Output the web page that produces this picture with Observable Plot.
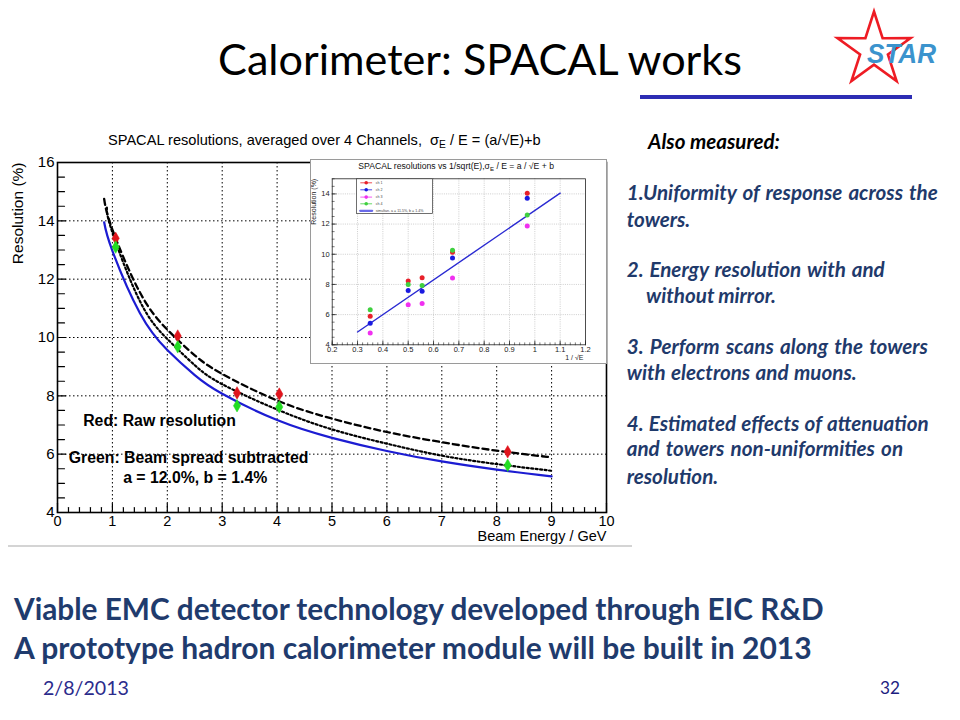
<!DOCTYPE html>
<html><head><meta charset="utf-8">
<script src="https://cdn.jsdelivr.net/npm/d3@7"></script>
<script src="https://cdn.jsdelivr.net/npm/@observablehq/plot@0.6"></script>
<style>
body{margin:0;background:#fff;}
#slide{position:relative;width:960px;height:720px;overflow:hidden;background:#fff;}
.abs{position:absolute;white-space:nowrap;line-height:1;}
.abs sub{font-size:70%;line-height:0;vertical-align:-0.3em;}
</style></head><body><div id="slide"></div>
<script>
// ===== main chart data =====
const beamEnergy = [1.06, 2.19, 3.27, 4.04, 8.2];
const rawResolution = [13.4, 10.05, 8.1, 8.06, 6.08];
const subtractedResolution = [13.1, 9.68, 7.66, 7.62, 5.62];
const fitEnergy = [0.85, 1, 1.5, 2, 2.5, 3, 4, 5, 6, 7, 8, 9];
const fitSolidBlue = [13.95, 12.97, 10.84, 9.57, 8.71, 8.07, 7.17, 6.56, 6.11, 5.75, 5.47, 5.24];
const fitDashedBlack = [14.75, 13.70, 11.55, 10.27, 9.39, 8.75, 7.84, 7.22, 6.76, 6.41, 6.12, 5.89];
const dottedEnergy = [0.9, 1, 1.5, 2, 2.5, 3, 4, 5, 6, 7, 8, 9];
const fitDottedBlack = [14.45, 13.6, 11.25, 9.95, 9.05, 8.4, 7.53, 6.85, 6.36, 5.95, 5.66, 5.43];
const xTickLabels = [0, 1, 2, 3, 4, 5, 6, 7, 8, 9, 10];
const yTickLabels = [4, 6, 8, 10, 12, 14, 16];
const xGridLines = [1, 2, 3, 4, 5, 6, 7, 8, 9];
const yGridLines = [6, 8, 10, 12, 14];
const annotationLines = ["Red: Raw resolution", "Green: Beam spread subtracted", "a = 12.0%, b = 1.4%"];

// ===== inset data =====
const invSqrtE = [0.35, 0.5, 0.555, 0.675, 0.97];
const channelRed = [5.9, 8.22, 8.44, 10.14, 14.04];
const channelBlue = [5.43, 7.6, 7.55, 9.76, 13.71];
const channelMagenta = [4.79, 6.65, 6.74, 8.42, 11.88];
const channelGreen = [6.32, 8.0, 7.93, 10.27, 12.6];
const insetFitX = [0.3, 1.1];
const insetFitY = [4.85, 14.05];
const insetXTicks = [0.2, 0.3, 0.4, 0.5, 0.6, 0.7, 0.8, 0.9, 1, 1.1, 1.2];
const insetYTicks = [4, 6, 8, 10, 12, 14];
const insetXGrid = [0.3, 0.4, 0.5, 0.6, 0.7, 0.8, 0.9, 1, 1.1];
const insetYGrid = [6, 8, 10, 12, 14];
const legendLabels = ["ch 1", "ch 2", "ch 3", "ch 4", "simultan. a = 11.5%, b = 1.4%"];

// ===== slide text =====
const slideTitle = "Calorimeter: SPACAL works";
const sideHeader = "Also measured:";
const sideLines = [
  "1.Uniformity of response across the", "towers.",
  "2. Energy resolution with and", "without mirror.",
  "3. Perform  scans along the towers", "with electrons and muons.",
  "4. Estimated effects of attenuation", "and towers non-uniformities  on", "resolution."
];
const bottomLines = ["Viable EMC detector technology developed through EIC R&D",
                     "A prototype hadron calorimeter module will be built in 2013"];
const dateText = "2/8/2013";
const pageNumber = "32";

// ===== helpers =====
const slide = document.getElementById("slide");
function addText(html, o) {
  const d = document.createElement("div");
  d.className = "abs";
  d.innerHTML = html;
  d.style.fontFamily = o.family || "Lato, 'Open Sans', sans-serif";
  d.style.fontSize = o.size + "px";
  d.style.fontWeight = o.weight || "normal";
  d.style.fontStyle = o.style || "normal";
  d.style.color = o.color || "black";
  d.style.left = o.left + "px";
  slide.appendChild(d);
  let fs = o.size;
  if (o.width) {
    const w = d.getBoundingClientRect().width;
    fs = fs * o.width / w;
    d.style.fontSize = fs + "px";
  }
  if (o.spacingWidth) {
    const w = d.getBoundingClientRect().width;
    const n = (d.textContent.match(/ /g) || []).length;
    if (n) {
      const ws = Math.max(-1.5, Math.min(3.5, (o.spacingWidth - w) / n));
      d.style.wordSpacing = ws + "px";
    }
  }
  if (o.center) {
    const w = d.getBoundingClientRect().width;
    d.style.left = (o.center - w / 2) + "px";
  }
  d.style.top = (o.cy - fs * 0.5) + "px";
  return fs;
}
function placeSvg(svg, left, top) {
  const w = document.createElement("div");
  w.style.position = "absolute"; w.style.left = left + "px"; w.style.top = top + "px";
  w.appendChild(svg); slide.appendChild(w); return w;
}
const tickShape = {draw(ctx, l) { ctx.moveTo(0, 0); ctx.lineTo(0, -l); }};
const pairs = (xs, ys) => xs.map((x, i) => ({x, y: ys[i]}));
const ROOTFONT = "'Liberation Sans', Arial, Helvetica, sans-serif";

// ===== main chart =====
const mainPts = beamEnergy.map((e, i) => ({e, raw: rawResolution[i], sub: subtractedResolution[i]}));
const xMajor = xTickLabels;
const xMinor = d3.range(0, 10.001, 0.2).filter(v => Math.abs(v - Math.round(v)) > 1e-6);
const yMajor = d3.range(4, 16.001, 1);
const yMinor = d3.range(4, 16.001, 0.5).filter(v => Math.abs(v - Math.round(v)) > 1e-6);

const mainPlot = Plot.plot({
  width: 632, height: 430,
  marginLeft: 57, marginRight: 26, marginTop: 42, marginBottom: 38,
  style: {fontFamily: ROOTFONT, background: "transparent", color: "black", overflow: "visible"},
  x: {domain: [0, 10]},
  y: {domain: [4, 16]},
  marks: [
    Plot.ruleX(xGridLines, {x: d => d, stroke: "black", strokeWidth: 1, strokeDasharray: "1.5,2.5"}),
    Plot.ruleY(yGridLines, {y: d => d, stroke: "black", strokeWidth: 1, strokeDasharray: "1.5,2.5"}),
    Plot.line(pairs(fitEnergy, fitDashedBlack), {x: "x", y: "y", curve: "natural", stroke: "black", strokeWidth: 2.3, strokeDasharray: "6,4"}),
    Plot.line(pairs(dottedEnergy, fitDottedBlack), {x: "x", y: "y", curve: "natural", stroke: "black", strokeWidth: 2.2, strokeDasharray: "2,2.5"}),
    Plot.line(pairs(fitEnergy, fitSolidBlue), {x: "x", y: "y", curve: "natural", stroke: "#1c1cd2", strokeWidth: 2.2}),
    Plot.dot(mainPts, {x: "e", y: "raw", symbol: "diamond", r: 3.8, fill: "#e0141c", stroke: "#e0141c", strokeWidth: 0.5}),
    Plot.dot(mainPts, {x: "e", y: "sub", symbol: "diamond", r: 3.8, fill: "#22dd22", stroke: "#22dd22", strokeWidth: 0.5}),
    Plot.vector(xMajor, {x: d => d, y: 4, length: 9, rotate: 0, anchor: "start", shape: tickShape, stroke: "black", strokeWidth: 1.2}),
    Plot.vector(xMinor, {x: d => d, y: 4, length: 5, rotate: 0, anchor: "start", shape: tickShape, stroke: "black", strokeWidth: 1.2}),
    Plot.vector(yMajor.filter(v => v % 2 === 0), {x: 0, y: d => d, length: 8, rotate: 90, anchor: "start", shape: tickShape, stroke: "black", strokeWidth: 1.2}),
    Plot.vector(yMajor.filter(v => v % 2 === 1).concat(yMinor), {x: 0, y: d => d, length: 7, rotate: 90, anchor: "start", shape: tickShape, stroke: "black", strokeWidth: 1.2}),
    Plot.frame({stroke: "black", strokeWidth: 1.6}),
    Plot.axisX(xTickLabels, {tickSize: 0, tickPadding: 3, fontSize: 14.5, label: null, tickFormat: d => String(d)}),
    Plot.axisY(yTickLabels, {tickSize: 0, tickPadding: 3, fontSize: 15, label: null, tickFormat: d => String(d)}),
    Plot.text(["Resolution (%)"], {text: d => d, frameAnchor: "top-left", rotate: -90, textAnchor: "end", lineAnchor: "middle", dx: -39, dy: 0, fontSize: 15.5}),
    Plot.text(["Beam Energy / GeV"], {text: d => d, frameAnchor: "bottom-right", textAnchor: "end", lineAnchor: "middle", dy: 24, fontSize: 14.5}),
    Plot.text([annotationLines[0]], {text: d => d, frameAnchor: "top-left", textAnchor: "start", lineAnchor: "middle", dx: 25.7, dy: 258, fontSize: 15.8, fontWeight: "bold"}),
    Plot.text([annotationLines[1]], {text: d => d, frameAnchor: "top-left", textAnchor: "start", lineAnchor: "middle", dx: 11.3, dy: 295.7, fontSize: 15.8, fontWeight: "bold"}),
    Plot.text([annotationLines[2]], {text: d => d, frameAnchor: "top-left", textAnchor: "start", lineAnchor: "middle", dx: 65.7, dy: 315.3, fontSize: 15.8, fontWeight: "bold"})
  ]
});
placeSvg(mainPlot, 0, 120);

// grey separator under the chart picture
const sep = document.createElement("div");
Object.assign(sep.style, {position: "absolute", left: "8px", top: "545px", width: "624px", height: "2px", background: "#d4d4d4"});
slide.appendChild(sep);

// main chart title
addText("SPACAL resolutions, averaged over 4 Channels, &nbsp;σ<sub>E</sub> / E = (a/√E)+b",
  {left: 108, cy: 140, size: 14, width: 433, family: ROOTFONT});

// ===== inset =====
const chans = [
  {vals: channelRed, color: "#e8202a"},
  {vals: channelBlue, color: "#1a1ae0"},
  {vals: channelMagenta, color: "#f030f0"},
  {vals: channelGreen, color: "#3fd03f"}
];
const insetXMinor = d3.range(0.2, 1.2001, 0.02);
const insetYMinor = d3.range(4, 15.001, 0.5);
const legendMarks = [];
const rowDy = [4, 11, 18.3, 25, 32];
legendLabels.forEach((lab, i) => {
  const col = i < 4 ? chans[i].color : "#6a6ae8";
  legendMarks.push(Plot.vector([lab], {frameAnchor: "top-left", dx: 34, dy: rowDy[i], length: i < 4 ? 11 : 12, rotate: 90, anchor: "middle", shape: tickShape, stroke: col, strokeWidth: i < 4 ? 0.8 : 2.2}));
  if (i < 4) legendMarks.push(Plot.dot([lab], {frameAnchor: "top-left", dx: 34, dy: rowDy[i], r: 1.8, fill: col}));
  legendMarks.push(Plot.text([lab], {text: d => d, frameAnchor: "top-left", dx: 43.5, dy: rowDy[i], textAnchor: "start", lineAnchor: "middle", fontSize: 3.6, fill: "#444"}));
});

const insetPlot = Plot.plot({
  width: 295, height: 203,
  marginLeft: 20.7, marginRight: 21, marginTop: 18.3, marginBottom: 18.7,
  style: {fontFamily: ROOTFONT, background: "white", color: "#222", overflow: "visible"},
  x: {domain: [0.2, 1.2]},
  y: {domain: [4, 15]},
  marks: [
    Plot.ruleX(insetXGrid, {x: d => d, stroke: "#b8b8b8", strokeWidth: 0.7, strokeDasharray: "1,1.2"}),
    Plot.ruleY(insetYGrid, {y: d => d, stroke: "#b8b8b8", strokeWidth: 0.7, strokeDasharray: "1,1.2"}),
    Plot.line(pairs(insetFitX, insetFitY), {x: "x", y: "y", stroke: "#2a2ad2", strokeWidth: 1.4}),
    ...chans.map(c => Plot.dot(pairs(invSqrtE, c.vals), {x: "x", y: "y", r: 2.5, fill: c.color})),
    Plot.vector(insetXTicks, {x: d => d, y: 4, length: 4, rotate: 0, anchor: "start", shape: tickShape, stroke: "#222", strokeWidth: 0.7}),
    Plot.vector(insetXMinor, {x: d => d, y: 4, length: 2, rotate: 0, anchor: "start", shape: tickShape, stroke: "#222", strokeWidth: 0.6}),
    Plot.vector(insetYTicks, {x: 0.2, y: d => d, length: 4, rotate: 90, anchor: "start", shape: tickShape, stroke: "#222", strokeWidth: 0.7}),
    Plot.vector(insetYMinor, {x: 0.2, y: d => d, length: 2, rotate: 90, anchor: "start", shape: tickShape, stroke: "#222", strokeWidth: 0.6}),
    Plot.frame({stroke: "#222", strokeWidth: 0.8}),
    Plot.frame({insetTop: 0, insetLeft: 24.3, insetRight: 153, insetBottom: 131.3, fill: "white", stroke: "#333", strokeWidth: 0.7}),
    ...legendMarks,
    Plot.axisX(insetXTicks, {tickSize: 0, tickPadding: 1.5, fontSize: 7.5, label: null, tickFormat: d => String(d)}),
    Plot.axisY(insetYTicks, {tickSize: 0, tickPadding: 2.5, fontSize: 7.5, label: null, tickFormat: d => String(d)}),
    Plot.text(["Resolution (%)"], {text: d => d, frameAnchor: "top-left", rotate: -90, textAnchor: "end", lineAnchor: "middle", dx: -18.4, dy: 0, fontSize: 7}),
    Plot.text(["1 / √E"], {text: d => d, frameAnchor: "bottom-right", textAnchor: "end", lineAnchor: "middle", dx: -2, dy: 13, fontSize: 7})
  ]
});
const insetWrap = placeSvg(insetPlot, 311, 160);
insetWrap.style.outline = "1px solid #9a9a9a";
insetWrap.style.lineHeight = "0";
addText("SPACAL resolutions vs 1/sqrt(E),σ<sub>E</sub> / E = a / √E + b",
  {left: 358.3, cy: 166.7, size: 8, width: 196, family: ROOTFONT, color: "#111"});

// ===== slide decorations =====
addText(slideTitle, {center: 480, cy: 59, size: 40, width: 524, color: "black"});

const bar = document.createElement("div");
Object.assign(bar.style, {position: "absolute", left: "640px", top: "95px", width: "272px", height: "4px", background: "#2d2db4"});
slide.appendChild(bar);

// STAR logo
const ns = "http://www.w3.org/2000/svg";
const logo = document.createElementNS(ns, "svg");
logo.setAttribute("width", 960); logo.setAttribute("height", 100);
logo.style.position = "absolute"; logo.style.left = "0px"; logo.style.top = "0px";
const starPts = [];
for (let i = 0; i < 10; i++) {
  const a = -Math.PI / 2 + i * Math.PI / 5, rr = i % 2 ? 14.6 : 38.5;
  starPts.push((874 + rr * Math.cos(a)).toFixed(1) + "," + (50 + rr * Math.sin(a)).toFixed(1));
}
const poly = document.createElementNS(ns, "polygon");
poly.setAttribute("points", starPts.join(" "));
poly.setAttribute("fill", "none"); poly.setAttribute("stroke", "#ee1c24"); poly.setAttribute("stroke-width", "2.6");
poly.setAttribute("stroke-linejoin", "miter");
logo.appendChild(poly);
const starTxt = document.createElementNS(ns, "text");
starTxt.textContent = "STAR";
starTxt.setAttribute("x", 867); starTxt.setAttribute("y", 63);
starTxt.setAttribute("textLength", 69); starTxt.setAttribute("lengthAdjust", "spacingAndGlyphs");
starTxt.setAttribute("font-family", ROOTFONT); starTxt.setAttribute("font-weight", "bold"); starTxt.setAttribute("font-style", "italic");
starTxt.setAttribute("font-size", 27); starTxt.setAttribute("fill", "#3b93cd");
logo.appendChild(starTxt);
slide.appendChild(logo);

// side text
addText(sideHeader, {left: 648, cy: 141.7, size: 16, width: 132, weight: "bold", style: "italic", color: "#000"});
const sideFs = (() => {
  const d = document.createElement("div"); d.className = "abs";
  Object.assign(d.style, {fontFamily: "Lato, sans-serif", fontWeight: "bold", fontStyle: "italic", fontSize: "16px"});
  d.textContent = sideLines[0]; slide.appendChild(d);
  const w = d.getBoundingClientRect().width; slide.removeChild(d);
  return 16 * 305 / w;
})();
const sideLeft = [626.7, 626.7, 626.7, 646, 626.7, 626.7, 626.7, 626.7, 626.7];
const sideCy = [192.7, 219, 269.3, 295, 346.7, 372.3, 423.3, 448.3, 476.7];
const sideW = [311, 62, 258, 130, 303, 230, 302, 278, 90];
sideLines.forEach((t, i) => addText(t, {left: sideLeft[i], cy: sideCy[i], size: sideFs, spacingWidth: sideW[i], weight: "bold", style: "italic", color: "#1f3a6b"}));

// bottom text
addText(bottomLines[0], {left: 14, cy: 608.5, size: 27, width: 810, weight: "bold", color: "#1f3b6d"});
addText(bottomLines[1], {left: 14, cy: 647, size: 27, width: 798, weight: "bold", color: "#1f3b6d"});
addText(dateText, {left: 43, cy: 688, size: 14, width: 86, color: "#2b2b8c"});
addText(pageNumber, {left: 880, cy: 688, size: 19, width: 20, color: "#1c1c80"});
</script>
</body></html>
